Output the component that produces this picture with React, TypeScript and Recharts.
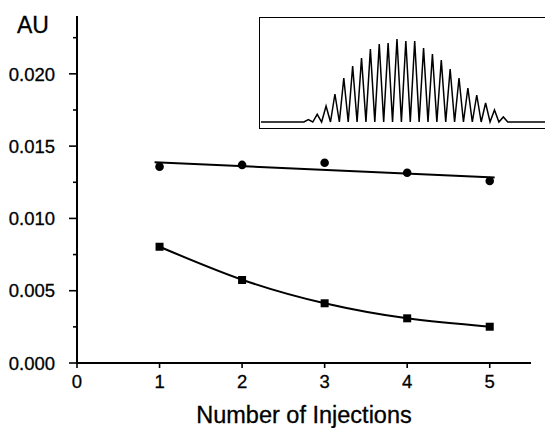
import React from 'react';
import { ComposedChart, LineChart, Line, Scatter, XAxis, YAxis } from 'recharts';

const injections = [1, 2, 3, 4, 5];
const circleValues = [0.01358, 0.0137, 0.01385, 0.01316, 0.01259];
const squareValues = [0.00804, 0.00574, 0.00413, 0.00309, 0.00251];
const circleFitX = [0.94, 5.06];
const circleFitY = [0.01389, 0.01283];
const squareFitValues = [0.00804, 0.00576, 0.00413, 0.00309, 0.00251];
const yMajorTicks = [0, 0.005, 0.01, 0.015, 0.02];
const yAllTicks = [0, 0.0025, 0.005, 0.0075, 0.01, 0.0125, 0.015, 0.0175, 0.02, 0.0225];
const xTicks = [0, 1, 2, 3, 4, 5];
const insetPeakHeights = [2.3, 7.7, 16, 28, 44, 56, 64, 73, 78, 79, 83, 81, 81, 74, 68, 62, 53, 44, 34, 27, 19, 12, 5];

const circleData = injections.map((x, i) => ({ x, y: circleValues[i] }));
const squareData = injections.map((x, i) => ({ x, y: squareValues[i] }));
const circleFit = circleFitX.map((x, i) => ({ x, y: circleFitY[i] }));
const squareFit = injections.map((x, i) => ({ x, y: squareFitValues[i] }));

const insetTrace: { t: number; v: number }[] = [{ t: -4.34, v: 0 }];
insetPeakHeights.forEach((h, i) => {
  insetTrace.push({ t: i + 0.5, v: 0 });
  insetTrace.push({ t: i + 1, v: h });
});
insetTrace.push({ t: insetPeakHeights.length + 0.5, v: 0 });
insetTrace.push({ t: 27.7, v: 0 });

const FONT = '"Liberation Sans", Arial, sans-serif';

const YTick = (props: any) => {
  const { x, y, payload } = props;
  const v = payload.value;
  const major = yMajorTicks.some((t) => Math.abs(t - v) < 1e-9);
  return (
    <g>
      <line x1={x - (major ? 8 : 4)} x2={x} y1={y} y2={y} stroke="#000" strokeWidth={1.6} />
      {major && (
        <text x={x - 22} y={y} dy={6.7} textAnchor="end" fontSize={18.5} fontFamily={FONT} fill="#000" stroke="#000" strokeWidth={0.3}>
          {v.toFixed(3)}
        </text>
      )}
    </g>
  );
};

const XTick = (props: any) => {
  const { x, y, payload } = props;
  return (
    <g>
      <line x1={x} x2={x} y1={y} y2={y + 5} stroke="#000" strokeWidth={1.6} />
      <text x={x} y={y + 25} textAnchor="middle" fontSize={18.5} fontFamily={FONT} fill="#000" stroke="#000" strokeWidth={0.3}>
        {payload.value}
      </text>
    </g>
  );
};

const CircleShape = (p: any) => <circle cx={p.cx} cy={p.cy} r={4.3} fill="#000" />;
const SquareShape = (p: any) => <rect x={p.cx - 4} y={p.cy - 4} width={8} height={8} fill="#000" />;

export default function App() {
  return (
    <div style={{ position: 'relative', width: 545, height: 428, overflow: 'hidden', background: '#fff' }}>
      <style>{`body{margin:0;background:#fff}`}</style>
      <ComposedChart
        width={545}
        height={428}
        margin={{ top: 16, right: 14, bottom: 0, left: 0 }}
      >
        <XAxis
          dataKey="x"
          type="number"
          domain={[0, 5.5]}
          ticks={xTicks}
          interval={0}
          height={65}
          tickSize={0}
          tickMargin={0}
          tick={<XTick />}
          tickLine={false}
          axisLine={{ stroke: '#000', strokeWidth: 2 }}
          allowDataOverflow
          label={{ value: 'Number of Injections', position: 'insideBottom', offset: 5, fontSize: 23.5, fontFamily: FONT, fill: '#000', stroke: '#000', strokeWidth: 0.3 }}
        />
        <YAxis
          dataKey="y"
          type="number"
          domain={[0, 0.024]}
          ticks={yAllTicks}
          interval={0}
          width={77}
          tickSize={0}
          tickMargin={0}
          tick={<YTick />}
          tickLine={false}
          axisLine={{ stroke: '#000', strokeWidth: 2 }}
          allowDataOverflow
        />
        <Line data={circleFit} dataKey="y" type="linear" stroke="#000" strokeWidth={2} dot={false} isAnimationActive={false} />
        <Line data={squareFit} dataKey="y" type="natural" stroke="#000" strokeWidth={2} dot={false} isAnimationActive={false} />
        <Scatter data={circleData} dataKey="y" shape={<CircleShape />} isAnimationActive={false} />
        <Scatter data={squareData} dataKey="y" shape={<SquareShape />} isAnimationActive={false} />
      </ComposedChart>
      <div
        style={{
          position: 'absolute',
          left: 17,
          top: 14,
          fontSize: 23,
          fontFamily: FONT,
          color: '#000',
          lineHeight: '23px',
          WebkitTextStroke: '0.3px #000',
        }}
      >
        AU
      </div>
      <div
        style={{
          position: 'absolute',
          left: 259,
          top: 17,
          width: 290,
          height: 112,
          boxSizing: 'border-box',
          borderTop: '1.5px solid #000',
          borderLeft: '1.5px solid #000',
          borderBottom: '1.5px solid #000',
        }}
      />
      <div style={{ position: 'absolute', left: 261, top: 19 }}>
        <LineChart width={284} height={108} data={insetTrace} margin={{ top: 0, right: 0, bottom: 0, left: 0 }}>
          <XAxis dataKey="t" type="number" domain={[-4.34, 27.7]} hide allowDataOverflow />
          <YAxis type="number" domain={[-5, 103]} hide allowDataOverflow />
          <Line dataKey="v" type="linear" stroke="#000" strokeWidth={1.5} dot={false} isAnimationActive={false} />
        </LineChart>
      </div>
    </div>
  );
}
